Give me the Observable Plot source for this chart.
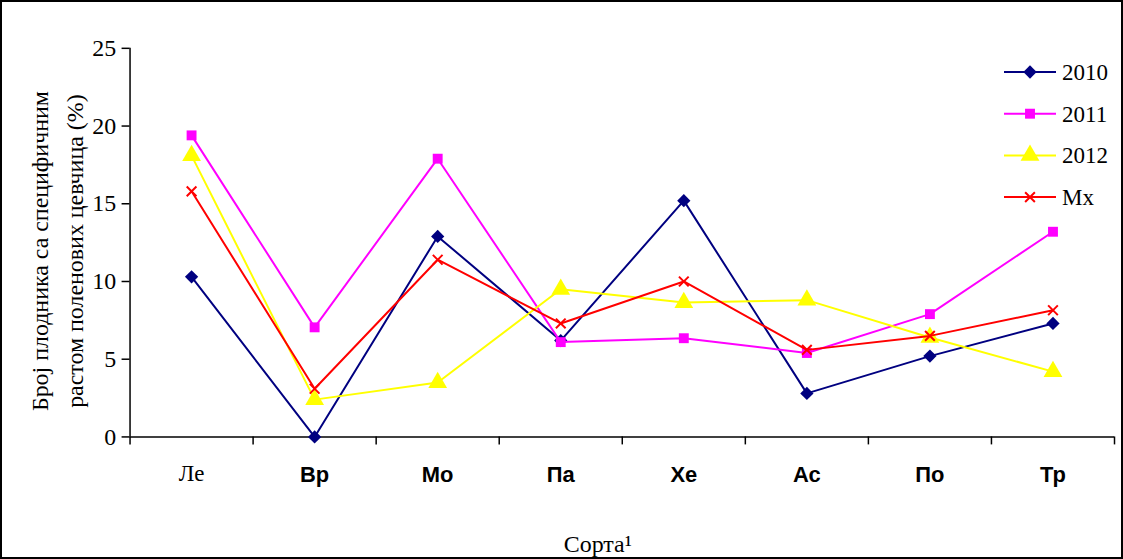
<!DOCTYPE html>
<html><head><meta charset="utf-8">
<script src="https://cdn.jsdelivr.net/npm/d3@7"></script>
<script src="https://cdn.jsdelivr.net/npm/@observablehq/plot@0.6"></script>
<style>
body{margin:0;background:#fff;}
#frame{position:relative;width:1123px;height:559px;box-sizing:border-box;border:2px solid #000;overflow:hidden;}
#frame svg.plot{position:absolute;left:-2px;top:-2px;}
#legend{position:absolute;left:-2px;top:-2px;}
</style></head>
<body><div id="frame"></div>
<script>
const categories = ["Ле","Вр","Мо","Па","Хе","Ас","По","Тр"];
const seriesNames = ["2010","2011","2012","Mx"];
const v2010 = [10.3, 0.0, 12.9, 6.2, 15.2, 2.8, 5.2, 7.3];
const v2011 = [19.4, 7.05, 17.9, 6.1, 6.35, 5.4, 7.9, 13.2];
const v2012 = [18.1, 2.4, 3.5, 9.5, 8.65, 8.8, 6.4, 4.2];
const vMx   = [15.8, 3.1, 11.4, 7.3, 10.0, 5.6, 6.5, 8.15];
const yTicks = [0,5,10,15,20,25];
const yLabel = "Број плодника са специфичним\nрастом поленових цевчица (%)";
const xLabel = "Сорта¹";

const colors = ["#000080","#FF00FF","#FFFF00","#FF0000"];
const symbols = ["diamond2","square","triangle","times"];
const radii = [6,5.6,7,4.5];
const allValues = [v2010, v2011, v2012, vMx];

const rows = [];
allValues.forEach((vals, s) => vals.forEach((v, i) => rows.push({series: seriesNames[s], s, i, x: i + 0.5, cat: categories[i], y: v})));
const catRows = categories.map((c, i) => ({c, x: i + 0.5}));

const marks = [
  Plot.ruleY([0], {stroke: "#000", strokeWidth: 1.5}),
  Plot.ruleX([0], {stroke: "#000", strokeWidth: 1.5}),
  Plot.axisY({ticks: yTicks, tickSize: 8, tickPadding: 6, label: null, fontSize: 24, fontFamily: "Liberation Serif", strokeWidth: 1.5}),
  Plot.axisX({ticks: d3.range(0, categories.length + 1), tickSize: 8, tickFormat: () => "", label: null, strokeWidth: 1.5}),
  Plot.text(catRows.filter(d => d.c === "Ле"), {x: "x", text: "c", frameAnchor: "bottom", dy: 44, fontSize: 23, fontFamily: "Liberation Serif", fill: "#000"}),
  Plot.text(catRows.filter(d => d.c !== "Ле"), {x: "x", text: "c", frameAnchor: "bottom", dy: 45, fontSize: 22, fontWeight: "bold", fontFamily: "Liberation Sans", fill: "#000"}),
];
seriesNames.forEach((name, s) => {
  const data = rows.filter(d => d.s === s);
  marks.push(Plot.line(data, {x: "x", y: "y", stroke: colors[s], strokeWidth: 2}));
  if (symbols[s] === "times") {
    marks.push(Plot.dot(data, {x: "x", y: "y", symbol: "times", stroke: colors[s], strokeWidth: 2, r: radii[s]}));
  } else {
    marks.push(Plot.dot(data, {x: "x", y: "y", symbol: symbols[s], fill: colors[s], stroke: "none", r: radii[s]}));
  }
});

const chart = Plot.plot({
  width: 1123, height: 559,
  marginLeft: 130, marginRight: 5, marginTop: 48, marginBottom: 121,
  x: {type: "linear", domain: [0, categories.length]},
  y: {domain: [0, 25]},
  style: {fontFamily: "Liberation Serif", fontSize: "24px", color: "#000", background: "transparent", overflow: "visible"},
  marks
});
chart.classList.add("plot");
document.getElementById("frame").appendChild(chart);

// titles
const svg = d3.select(chart);
const lines = yLabel.split("\n");
const yl = svg.append("text").attr("transform", "translate(57,252) rotate(-90)")
  .attr("text-anchor", "middle").attr("font-family", "Liberation Serif").attr("font-size", 24).attr("fill", "#000");
lines.forEach((t, k) => yl.append("tspan").attr("x", 0).attr("y", (k - (lines.length - 1) / 2) * 35).attr("dy", "0.35em").text(t));
svg.append("text").attr("x", 600).attr("y", 546).attr("text-anchor", "middle").attr("dy", "0.35em")
  .attr("font-family", "Liberation Serif").attr("font-size", 24).attr("fill", "#000").text(xLabel);

// legend
const leg = d3.select("#frame").append("svg").attr("id", "legend").attr("width", 1123).attr("height", 559);
seriesNames.forEach((name, s) => {
  const yy = 72 + s * 41.7;
  leg.append("line").attr("x1", 1004).attr("x2", 1056).attr("y1", yy).attr("y2", yy).attr("stroke", colors[s]).attr("stroke-width", 2);
  const symMap = {diamond2: d3.symbolDiamond2, square: d3.symbolSquare, triangle: d3.symbolTriangle, times: d3.symbolTimes};
  const path = d3.symbol(symMap[symbols[s]], radii[s] * radii[s] * Math.PI)();
  const p = leg.append("path").attr("d", path).attr("transform", `translate(1030,${yy})`);
  if (symbols[s] === "times") p.attr("fill", "none").attr("stroke", colors[s]).attr("stroke-width", 2);
  else p.attr("fill", colors[s]);
  leg.append("text").attr("x", 1062).attr("y", yy).attr("dy", "0.35em").attr("font-family", "Liberation Serif").attr("font-size", 23).attr("fill", "#000").text(name);
});
</script></body></html>
